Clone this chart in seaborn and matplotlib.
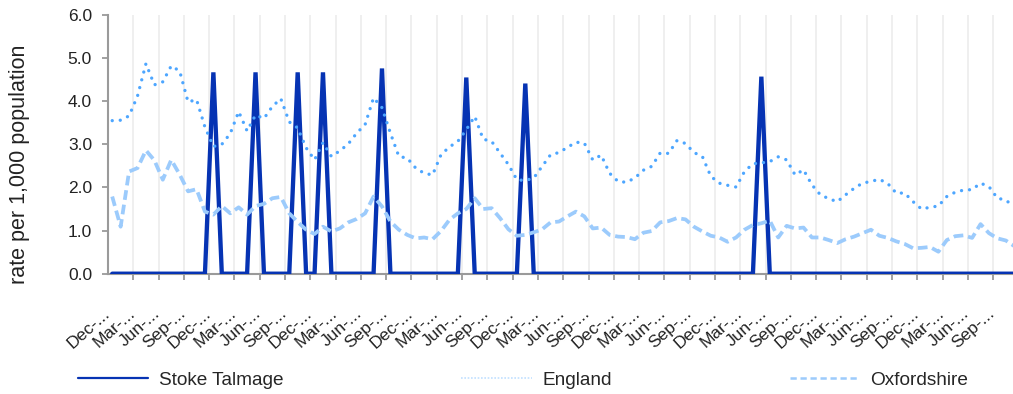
import numpy as np
import pandas as pd
import seaborn as sns
import matplotlib.pyplot as plt
from matplotlib.lines import Line2D
from matplotlib.transforms import ScaledTranslation

# monthly rates, Dec of first year onwards (108 months)
stoke_talmage = [
    0, 0, 0, 0, 0, 0, 0, 0, 0, 0, 0, 0,
    4.67, 0, 0, 0, 0, 4.67, 0, 0, 0, 0, 4.67, 0,
    0, 4.67, 0, 0, 0, 0, 0, 0, 4.76, 0, 0, 0,
    0, 0, 0, 0, 0, 0, 4.55, 0, 0, 0, 0, 0,
    0, 4.41, 0, 0, 0, 0, 0, 0, 0, 0, 0, 0,
    0, 0, 0, 0, 0, 0, 0, 0, 0, 0, 0, 0,
    0, 0, 0, 0, 0, 4.57, 0, 0, 0, 0, 0, 0,
    0, 0, 0, 0, 0, 0, 0, 0, 0, 0, 0, 0,
    0, 0, 0, 0, 0, 0, 0, 0, 0, 0, 0, 0,
]
england = [
    3.55, 3.56, 3.66, 4.12, 4.87, 4.38, 4.45, 4.82, 4.70, 3.98, 4.04, 3.40,
    2.95, 3.00, 3.25, 3.76, 3.31, 3.68, 3.60, 3.88, 4.06, 3.52, 3.38, 2.92,
    2.64, 3.04, 2.72, 2.85, 3.01, 3.26, 3.46, 4.08, 3.85, 3.26, 2.72, 2.68,
    2.45, 2.33, 2.29, 2.76, 2.94, 3.07, 3.34, 3.65, 3.12, 3.07, 2.80, 2.53,
    2.18, 2.16, 2.22, 2.49, 2.76, 2.81, 2.93, 3.05, 3.03, 2.64, 2.75, 2.33,
    2.14, 2.12, 2.22, 2.40, 2.49, 2.80, 2.79, 3.09, 3.02, 2.81, 2.72, 2.26,
    2.10, 2.05, 2.01, 2.37, 2.55, 2.57, 2.60, 2.71, 2.64, 2.29, 2.41, 2.06,
    1.83, 1.74, 1.67, 1.83, 1.98, 2.10, 2.14, 2.19, 2.09, 1.87, 1.87, 1.67,
    1.50, 1.54, 1.57, 1.79, 1.89, 1.94, 1.95, 2.10, 2.02, 1.75, 1.71, 1.54,
]
oxfordshire = [
    1.79, 1.09, 2.37, 2.45, 2.86, 2.63, 2.18, 2.64, 2.30, 1.91, 1.96, 1.44,
    1.37, 1.57, 1.40, 1.54, 1.37, 1.57, 1.62, 1.75, 1.78, 1.40, 1.20, 1.02,
    0.92, 1.09, 0.98, 1.05, 1.19, 1.27, 1.40, 1.79, 1.56, 1.21, 1.02, 0.90,
    0.82, 0.84, 0.80, 0.99, 1.25, 1.40, 1.50, 1.75, 1.50, 1.52, 1.29, 1.03,
    0.88, 0.90, 0.96, 1.03, 1.19, 1.21, 1.33, 1.44, 1.33, 1.05, 1.07, 0.90,
    0.86, 0.85, 0.80, 0.95, 0.99, 1.19, 1.22, 1.29, 1.26, 1.09, 0.98, 0.88,
    0.84, 0.74, 0.84, 1.02, 1.13, 1.17, 1.23, 0.84, 1.11, 1.05, 1.07, 0.84,
    0.84, 0.78, 0.71, 0.80, 0.86, 0.94, 1.02, 0.88, 0.83, 0.75, 0.69, 0.59,
    0.60, 0.62, 0.51, 0.78, 0.87, 0.89, 0.83, 1.15, 0.94, 0.82, 0.77, 0.64,
]
# every third month is labelled (labels are truncated in the original)
tick_labels = ["Dec-...", "Mar-...", "Jun-...", "Sep-..."] * 9
series_names = ["Stoke Talmage", "England", "Oxfordshire"]

df = pd.DataFrame({
    "month": np.arange(len(england)),
    "Stoke Talmage": stoke_talmage,
    "England": england,
    "Oxfordshire": oxfordshire,
})

sns.set_theme(style="white")
plt.rcParams["font.family"] = ["Liberation Sans", "DejaVu Sans"]

fig = plt.figure(figsize=(10.13, 3.94), dpi=100)
ax = fig.add_axes([108 / 1013, 120.3 / 394, 905 / 1013, 258.7 / 394])

c_stoke, c_eng, c_oxf = "#0633b3", "#4da6ff", "#9ccbfc"

sns.lineplot(data=df, x="month", y="Stoke Talmage", ax=ax, color=c_stoke,
             linewidth=3.1, solid_joinstyle="miter", zorder=3)
sns.lineplot(data=df, x="month", y="England", ax=ax, color=c_eng,
             linewidth=2.4, linestyle=(0, (0.01, 2.4)),
             dash_capstyle="round", zorder=4)
sns.lineplot(data=df, x="month", y="Oxfordshire", ax=ax, color=c_oxf,
             linewidth=2.7, linestyle=(0, (2.6, 1.3)), zorder=5)

ax.set_xlim(-0.5, 106.85)
ax.set_ylim(0, 6)
ax.set_yticks(np.arange(0, 7, 1))
ax.set_yticklabels([f"{v:.1f}" for v in range(7)])
ax.set_xticks(np.arange(0, len(tick_labels) * 3, 3))
ax.set_xticklabels(tick_labels, rotation=42, ha="right",
                   va="center_baseline", rotation_mode="anchor")
ax.set_xticks(np.arange(2.5, 106, 3), minor=True)

ax.grid(False)
ax.grid(axis="x", which="minor", color="#efefef", linewidth=1.4)
ax.set_axisbelow(True)

for side in ["top", "right"]:
    ax.spines[side].set_visible(False)
for side in ["left", "bottom"]:
    ax.spines[side].set_color("#9a9a9a")
    ax.spines[side].set_linewidth(1.5)
    ax.spines[side].set_zorder(2)

ax.tick_params(axis="y", which="major", left=True, length=4.5, width=1.3,
               color="#9a9a9a", pad=7, labelsize=12.5, labelcolor="#222222")
ax.tick_params(axis="x", which="major", bottom=True, length=0, pad=26,
               labelsize=12.5, labelcolor="#222222")
ax.tick_params(axis="x", which="minor", bottom=True, length=4.5, width=1.3,
               color="#9a9a9a")

shift = ScaledTranslation(-6 / 100, 0, fig.dpi_scale_trans)
for lbl in ax.get_xticklabels():
    lbl.set_transform(lbl.get_transform() + shift)

ax.set_xlabel("")
ax.set_ylabel("rate per 1,000 population", fontsize=15.5, color="#222222")
ax.yaxis.set_label_coords(-0.086, 0.424)

handles = [
    Line2D([], [], color=c_stoke, linewidth=1.6),
    Line2D([], [], color=c_eng, linewidth=1.2, alpha=0.35,
           linestyle=(0, (1, 1))),
    Line2D([], [], color=c_oxf, linewidth=1.8, linestyle=(0, (2.5, 1.5))),
]
fig.legend(handles, series_names, loc="center left",
           bbox_to_anchor=(78 / 1013, 1 - 380 / 394),
           bbox_transform=fig.transFigure, ncol=3, frameon=False,
           fontsize=13.7, handlelength=3.7, handletextpad=0.55,
           columnspacing=9.35, borderpad=0, borderaxespad=0)

fig.savefig("out.png", dpi=100)
